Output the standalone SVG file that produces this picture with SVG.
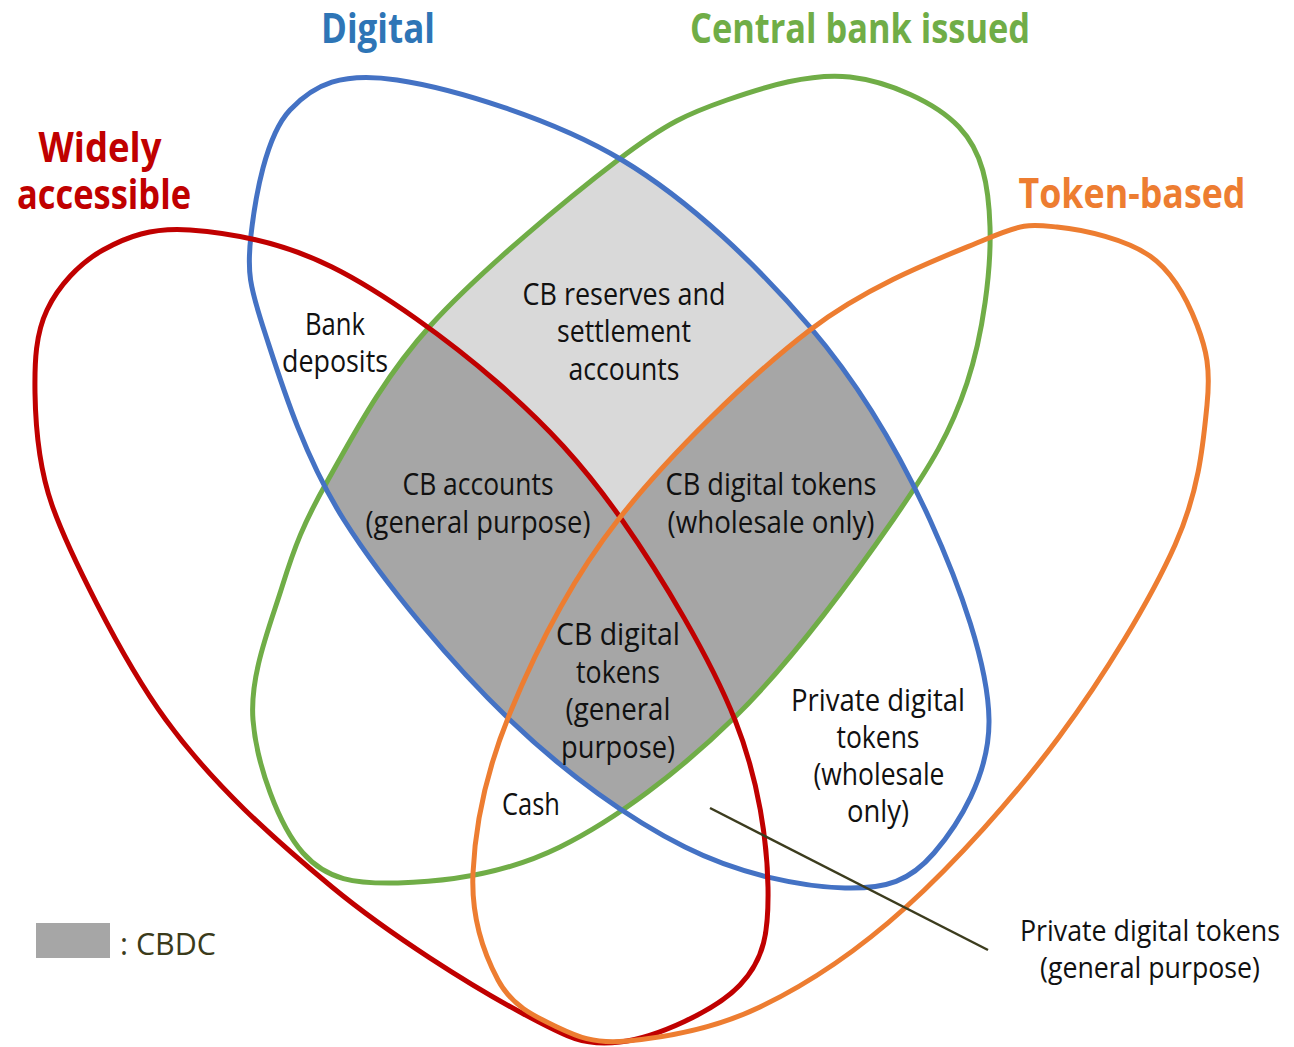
<svg xmlns="http://www.w3.org/2000/svg" xmlns:xlink="http://www.w3.org/1999/xlink" width="1294" height="1047" viewBox="0 0 1294 1047">
<style>
.ring{fill:none;stroke-width:5;stroke-linejoin:round}
.title{font-family:"Open Sans","Noto Sans","Liberation Sans",sans-serif;font-weight:bold;font-size:42px;text-anchor:middle}
.lbl{font-family:"Open Sans","Noto Sans","Liberation Sans",sans-serif;font-size:31px;fill:#111;text-anchor:middle}
.lbl-sm{font-size:28.5px}
</style>
<defs>
<path id="pBlue" d="M397,80 C452.3,88.3 553.2,118.8 622,160 C690.8,201.2 758.7,267 810,327 C861.3,387 900.2,454.5 930,520 C959.8,585.5 988.3,664.5 989,720 C989.7,775.5 958,825 934,853 C910,881 886.5,889 845,888 C803.5,887 740.8,875 685,847 C629.2,819 566.8,774.5 510,720 C453.2,665.5 384.8,584.5 344,520 C303.2,455.5 280.5,380.5 265,333 C249.5,285.5 246.8,272.2 251,235 C255.2,197.8 265.7,135.8 290,110 C314.3,84.2 341.7,71.7 397,80 Z"/>
<path id="pGreen" d="M850,77 C888.7,81.5 935.7,102.3 959,127 C982.3,151.7 988.7,184.3 990,227 C991.3,269.7 983.2,334.2 967,383 C950.8,431.8 931.7,464.3 893,520 C854.3,575.7 790.5,662.5 735,717 C679.5,771.5 616.2,819.3 560,847 C503.8,874.7 440.8,882 398,883 C355.2,884 327.2,880.2 303,853 C278.8,825.8 256.5,764.3 253,720 C249.5,675.7 269.5,627 282,587 C294.5,547 303.2,523.7 328,480 C352.8,436.3 382.7,378.3 431,325 C479.3,271.7 568.7,197.5 618,160 C667.3,122.5 688.3,113.5 727,100 C765.7,86.5 811.3,72.5 850,77 Z"/>
<path id="pRed" d="M190,230 C228.2,232.8 280.7,241.5 332,267 C383.3,292.5 449.7,340.8 498,383 C546.3,425.2 582.5,463.8 622,520 C661.5,576.2 710.7,658.8 735,720 C759.3,781.2 767.2,842.8 768,887 C768.8,931.2 764.7,959.2 740,985 C715.3,1010.8 656.7,1037.5 620,1042 C583.3,1046.5 568,1037.8 520,1012 C472,986.2 391,935.7 332,887 C273,838.3 213,784.5 166,720 C119,655.5 66,545 52,505 C38,465 35.5,424.7 35,393 C34.5,361.3 35.7,333.8 47,310 C58.3,286.2 79.2,263.3 103,250 C126.8,236.7 151.8,227.2 190,230 Z"/>
<path id="pOrange" d="M1057,227 C1084.7,229.7 1126.7,239.7 1150,256 C1173.3,272.3 1187.5,300.2 1197,325 C1206.5,349.8 1210.7,368.3 1207,405 C1203.3,441.7 1199.7,489.7 1175,545 C1150.3,600.3 1104,676.5 1059,737 C1014,797.5 954.8,863 905,908 C855.2,953 806.3,984.8 760,1007 C713.7,1029.2 661.2,1037.8 627,1041 C592.8,1044.2 576.5,1036.2 555,1026 C533.5,1015.8 511.7,1005.5 498,980 C484.3,954.5 471,917.5 473,873 C475,828.5 485.8,771.8 510,713 C534.2,654.2 568,583.8 618,520 C668,456.2 749,376.7 810,330 C871,283.3 942.8,257.2 984,240 C1025.2,222.8 1029.3,224.3 1057,227 Z"/>
<clipPath id="cBlue"><use xlink:href="#pBlue"/></clipPath>
<clipPath id="cGreen"><use xlink:href="#pGreen"/></clipPath>
</defs>
<rect width="1294" height="1047" fill="#fff"/>
<g id="cbdc-shading" clip-path="url(#cBlue)">
<g clip-path="url(#cGreen)">
<rect x="0" y="0" width="1294" height="1047" fill="#d9d9d9"/>
<use xlink:href="#pRed" fill="#a6a6a6"/>
<use xlink:href="#pOrange" fill="#a6a6a6"/>
</g>
</g>
<g id="set-central-bank">
<use xlink:href="#pGreen" class="ring" stroke="#70ad47"/>
<text class="title" x="860" y="43" fill="#70ad47" textLength="340" lengthAdjust="spacingAndGlyphs">Central bank issued</text>
</g>
<g id="set-digital">
<use xlink:href="#pBlue" class="ring" stroke="#4472c4"/>
<text class="title" x="378" y="43" fill="#2e75b6" textLength="114" lengthAdjust="spacingAndGlyphs">Digital</text>
</g>
<g id="set-widely-accessible">
<use xlink:href="#pRed" class="ring" stroke="#c00000"/>
<text class="title" x="100" y="162" fill="#c00000" textLength="123" lengthAdjust="spacingAndGlyphs">Widely</text>
<text class="title" x="104" y="209" fill="#c00000" textLength="174" lengthAdjust="spacingAndGlyphs">accessible</text>
</g>
<g id="set-token-based">
<use xlink:href="#pOrange" class="ring" stroke="#ed7d31"/>
<text class="title" x="1132" y="208" fill="#ed7d31" textLength="227" lengthAdjust="spacingAndGlyphs">Token-based</text>
</g>
<g id="connectors">
<line x1="710" y1="808" x2="988" y2="950" stroke="#3c3c1e" stroke-width="2.5"/>
</g>
<g id="region-bank-deposits">
<text class="lbl" x="335" y="335" textLength="60" lengthAdjust="spacingAndGlyphs">Bank</text>
<text class="lbl" x="335" y="372" textLength="106" lengthAdjust="spacingAndGlyphs">deposits</text>
</g>
<g id="region-cb-reserves">
<text class="lbl" x="624" y="305" textLength="203" lengthAdjust="spacingAndGlyphs">CB reserves and</text>
<text class="lbl" x="624" y="342" textLength="134" lengthAdjust="spacingAndGlyphs">settlement</text>
<text class="lbl" x="624" y="380" textLength="111" lengthAdjust="spacingAndGlyphs">accounts</text>
</g>
<g id="region-cb-accounts">
<text class="lbl" x="478" y="495" textLength="151" lengthAdjust="spacingAndGlyphs">CB accounts</text>
<text class="lbl" x="478" y="533" textLength="225" lengthAdjust="spacingAndGlyphs">(general purpose)</text>
</g>
<g id="region-cb-tokens-wholesale">
<text class="lbl" x="771" y="495" textLength="211" lengthAdjust="spacingAndGlyphs">CB digital tokens</text>
<text class="lbl" x="771" y="533" textLength="207" lengthAdjust="spacingAndGlyphs">(wholesale only)</text>
</g>
<g id="region-cb-tokens-general">
<text class="lbl" x="618" y="645" textLength="124" lengthAdjust="spacingAndGlyphs">CB digital</text>
<text class="lbl" x="618" y="683" textLength="84" lengthAdjust="spacingAndGlyphs">tokens</text>
<text class="lbl" x="618" y="720" textLength="105" lengthAdjust="spacingAndGlyphs">(general</text>
<text class="lbl" x="618" y="758" textLength="114" lengthAdjust="spacingAndGlyphs">purpose)</text>
</g>
<g id="region-cash">
<text class="lbl" x="531" y="815" textLength="58" lengthAdjust="spacingAndGlyphs">Cash</text>
</g>
<g id="region-private-wholesale">
<text class="lbl" x="878" y="711" textLength="174" lengthAdjust="spacingAndGlyphs">Private digital</text>
<text class="lbl" x="878" y="748" textLength="83" lengthAdjust="spacingAndGlyphs">tokens</text>
<text class="lbl" x="879" y="785" textLength="131" lengthAdjust="spacingAndGlyphs">(wholesale</text>
<text class="lbl" x="878" y="822" textLength="62" lengthAdjust="spacingAndGlyphs">only)</text>
</g>
<g id="region-private-general">
<text class="lbl lbl-sm" x="1150" y="941" textLength="260" lengthAdjust="spacingAndGlyphs">Private digital tokens</text>
<text class="lbl lbl-sm" x="1150" y="978" textLength="220" lengthAdjust="spacingAndGlyphs">(general purpose)</text>
</g>
<g id="legend">
<rect x="36" y="923" width="74" height="35" fill="#a6a6a6"/>
<text x="120" y="955" font-family="Open Sans, Noto Sans, Liberation Sans, sans-serif" font-size="31" fill="#3b3b1b" textLength="96" lengthAdjust="spacingAndGlyphs">: CBDC</text>
</g>
</svg>
